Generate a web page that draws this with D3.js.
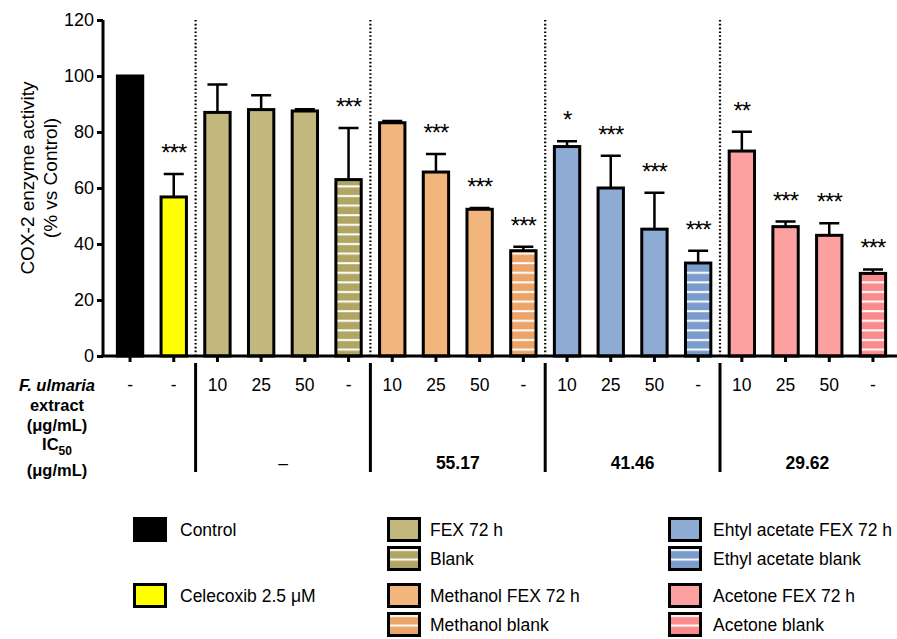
<!DOCTYPE html>
<html>
<head>
<meta charset="utf-8">
<script src="https://cdn.jsdelivr.net/npm/d3@7"></script>
<style>
  body { margin: 0; background: #fff; }
  svg { font-family: "Liberation Sans", Arial, Helvetica, sans-serif; }
</style>
</head>
<body>
<div id="chart"></div>
<script>
// bar data, in plot order
var categories = ["Control", "Celecoxib", "FEX 10", "FEX 25", "FEX 50", "Blank",
  "MeOH 10", "MeOH 25", "MeOH 50", "MeOH blank",
  "EtOAc 10", "EtOAc 25", "EtOAc 50", "EtOAc blank",
  "Acetone 10", "Acetone 25", "Acetone 50", "Acetone blank"];
var activity = [100, 56.8, 87, 88, 87.5, 63, 83.3, 65.7, 52.4, 37.6, 74.8, 60, 45.3, 33.2, 73.2, 46.2, 43.1, 29.5];
var errorUp = [0, 8.2, 10, 5.1, 0.6, 18.4, 0.6, 6.4, 0.5, 1.4, 1.9, 11.5, 13, 4.4, 6.9, 1.8, 4.3, 1.4];
var stars = ["", "***", "", "", "", "***", "", "***", "***", "***", "*", "***", "***", "***", "**", "***", "***", "***"];
var series = ["control", "celecoxib", "fex", "fex", "fex", "fexBlank",
  "meoh", "meoh", "meoh", "meohBlank",
  "etoac", "etoac", "etoac", "etoacBlank",
  "acetone", "acetone", "acetone", "acetoneBlank"];
var doses = ["-", "-", "10", "25", "50", "-", "10", "25", "50", "-", "10", "25", "50", "-", "10", "25", "50", "-"];

// groups separated by dotted lines
var groupFirst = [2, 6, 10, 14];
var groupLast = [5, 9, 13, 17];
var ic50 = ["\u2013", "55.17", "41.46", "29.62"];

var yTicks = [0, 20, 40, 60, 80, 100, 120];

// legend
var legendKeys = ["control", "celecoxib", "fex", "fexBlank", "meoh", "meohBlank", "etoac", "etoacBlank", "acetone", "acetoneBlank"];
var legendLabels = ["Control", "Celecoxib 2.5 \u03bcM", "FEX 72 h", "Blank", "Methanol FEX 72 h", "Methanol blank",
  "Ehtyl acetate FEX 72 h", "Ethyl acetate blank", "Acetone FEX 72 h", "Acetone blank"];

var colors = {
  control: "#000000", celecoxib: "#ffff00",
  fex: "#c2b77c", fexBlank: "#b1a563",
  meoh: "#f2b57b", meohBlank: "#eca468",
  etoac: "#8eabd3", etoacBlank: "#7a9bcc",
  acetone: "#fca0a0", acetoneBlank: "#fa8b8d"
};
var striped = {fexBlank: true, meohBlank: true, etoacBlank: true, acetoneBlank: true};

var width = 897, height = 639;

var svg = d3.select("#chart").append("svg")
  .attr("width", width)
  .attr("height", height);

var defs = svg.append("defs");
Object.keys(striped).forEach(function (k) {
  var p = defs.append("pattern")
    .attr("id", "stripe-" + k)
    .attr("patternUnits", "userSpaceOnUse")
    .attr("width", 10)
    .attr("height", 9.6);
  p.append("rect").attr("width", 10).attr("height", 9.6).attr("fill", colors[k]);
  p.append("rect").attr("y", 3).attr("width", 10).attr("height", 2).attr("fill", "#fff");
});

function fillFor(k) {
  return striped[k] ? "url(#stripe-" + k + ")" : colors[k];
}

var x = d3.scaleBand()
  .domain(categories)
  .range([108.2, 894.8])
  .paddingInner(0.42)
  .paddingOuter(0.21);

var y = d3.scaleLinear()
  .domain([0, 120])
  .range([356, 20]);

var bw = x.bandwidth();
var step = x.step();

function cx(i) { return x(categories[i]) + bw / 2; }
function sepX(g) { return x(categories[groupFirst[g]]) - (step - bw) / 2; }

// dotted separators
svg.append("g").selectAll("line")
  .data(groupFirst)
  .join("line")
  .attr("x1", function (d, g) { return sepX(g); })
  .attr("x2", function (d, g) { return sepX(g); })
  .attr("y1", y(120))
  .attr("y2", y(0))
  .attr("stroke", "#000")
  .attr("stroke-width", 2.2)
  .attr("stroke-dasharray", "1.6,2.2");

// bars
var data = categories.map(function (c, i) {
  return {cat: c, v: activity[i], e: errorUp[i], s: series[i], star: stars[i]};
});

var barG = svg.append("g");

// error bars (upward only)
barG.selectAll(".err")
  .data(data.filter(function (d) { return d.e > 0; }))
  .join("path")
  .attr("class", "err")
  .attr("d", function (d) {
    var c = x(d.cat) + bw / 2, top = y(d.v + d.e);
    return "M" + c + "," + y(d.v) + "V" + top + "M" + (c - 10) + "," + top + "H" + (c + 10);
  })
  .attr("stroke", "#000")
  .attr("stroke-width", 2.5)
  .attr("fill", "none");

barG.selectAll(".bar")
  .data(data)
  .join("rect")
  .attr("class", "bar")
  .attr("x", function (d) { return x(d.cat); })
  .attr("width", bw)
  .attr("y", function (d) { return y(d.v); })
  .attr("height", function (d) { return y(0) - y(d.v); })
  .attr("fill", function (d) { return fillFor(d.s); })
  .attr("stroke", "#000")
  .attr("stroke-width", 3);

barG.selectAll(".star")
  .data(data.filter(function (d) { return d.star; }))
  .join("text")
  .attr("class", "star")
  .attr("x", function (d) { return x(d.cat) + bw / 2; })
  .attr("y", function (d) { return y(d.v + d.e) - 13; })
  .attr("text-anchor", "middle")
  .attr("font-size", 24)
  .attr("letter-spacing", -1)
  .text(function (d) { return d.star; });

// axes
var yAxis = svg.append("g")
  .attr("transform", "translate(103,0)")
  .call(d3.axisLeft(y).tickValues(yTicks).tickSize(6).tickPadding(3));
yAxis.selectAll("text").attr("font-size", 18).attr("font-family", null).attr("fill", "#000");
yAxis.selectAll("line").attr("stroke-width", 3);
yAxis.select(".domain").attr("stroke-width", 3).attr("d", "M0," + y(120) + "V" + y(0));

var xAxis = svg.append("g")
  .attr("transform", "translate(0," + y(0) + ")")
  .call(d3.axisBottom(x).tickSize(6).tickFormat(""));
xAxis.selectAll("line").attr("stroke-width", 3);
xAxis.select(".domain").attr("stroke-width", 3).attr("d", "M101.5,0H897");

// y label
svg.append("text")
  .attr("transform", "translate(34,178) rotate(-90)")
  .attr("text-anchor", "middle")
  .attr("font-size", 19)
  .text("COX-2 enzyme activity");
svg.append("text")
  .attr("transform", "translate(57,178) rotate(-90)")
  .attr("text-anchor", "middle")
  .attr("font-size", 19)
  .text("(% vs Control)");

// table under the axis
var tbl = svg.append("g").attr("font-size", 17.5);
var rowLabels = tbl.append("g").attr("text-anchor", "middle").attr("font-weight", "bold");
rowLabels.append("text").attr("x", 57).attr("y", 391).attr("font-style", "italic").attr("font-size", 16.5).text("F. ulmaria");
rowLabels.append("text").attr("x", 57).attr("y", 411).attr("font-size", 16.5).text("extract");
rowLabels.append("text").attr("x", 57).attr("y", 431).attr("font-size", 16.5).text("(\u03bcg/mL)");
var ic = rowLabels.append("text").attr("x", 57).attr("y", 450).attr("font-size", 16.5);
ic.append("tspan").text("IC");
ic.append("tspan").attr("font-size", 12).attr("dy", 5).text("50");
rowLabels.append("text").attr("x", 57).attr("y", 476).attr("font-size", 16.5).text("(\u03bcg/mL)");

tbl.selectAll(".dose")
  .data(doses)
  .join("text")
  .attr("class", "dose")
  .attr("x", function (d, i) { return cx(i); })
  .attr("y", 391)
  .attr("text-anchor", "middle")
  .text(function (d) { return d; });

tbl.selectAll(".ic")
  .data(ic50)
  .join("text")
  .attr("class", "ic")
  .attr("x", function (d, g) { return (cx(groupFirst[g]) + cx(groupLast[g])) / 2; })
  .attr("y", 469)
  .attr("text-anchor", "middle")
  .attr("font-weight", function (d, g) { return g === 0 ? "normal" : "bold"; })
  .text(function (d) { return d; });

tbl.selectAll(".vline")
  .data(groupFirst)
  .join("line")
  .attr("class", "vline")
  .attr("x1", function (d, g) { return sepX(g); })
  .attr("x2", function (d, g) { return sepX(g); })
  .attr("y1", 363)
  .attr("y2", 472)
  .attr("stroke", "#000")
  .attr("stroke-width", 3);

// legend: three columns, four row slots
var legendCol = [0, 0, 1, 1, 1, 1, 2, 2, 2, 2];
var legendRow = [0, 2, 0, 1, 2, 3, 0, 1, 2, 3];
var colX = [133, 387, 668];
var rowY = [517, 546, 583, 612];

var leg = svg.append("g").selectAll("g")
  .data(legendKeys)
  .join("g")
  .attr("transform", function (d, i) {
    return "translate(" + colX[legendCol[i]] + "," + rowY[legendRow[i]] + ")";
  });

leg.append("rect")
  .attr("x", 1.5)
  .attr("y", 1.5)
  .attr("width", 31)
  .attr("height", 22)
  .attr("fill", function (d) { return fillFor(d); })
  .attr("stroke", "#000")
  .attr("stroke-width", 3);

leg.append("text")
  .attr("x", function (d, i) { return legendCol[i] === 0 ? 47 : (legendCol[i] === 1 ? 43 : 45); })
  .attr("y", 19)
  .attr("font-size", 17.5)
  .text(function (d, i) { return legendLabels[i]; });
</script>
</body>
</html>
